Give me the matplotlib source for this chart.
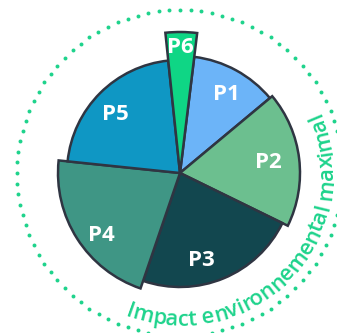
import numpy as np
import matplotlib.pyplot as plt
from matplotlib import font_manager
from matplotlib.font_manager import FontProperties
from matplotlib.ft2font import FT2Font

# share of each part (angular width, %) and its impact score (radius)
labels = ['P1', 'P2', 'P3', 'P4', 'P5', 'P6']
shares = [12.0, 18.3, 23.0, 21.4, 21.7, 3.6]
impact = [117, 120, 114, 122, 113, 141]
colors = ['#6cb4f8', '#6cbf8f', '#12474f', '#3f9685', '#0f97c4', '#0fd685']
max_impact = 163
arc_title = 'Impact environnemental maximal'

green = '#1ed38c'
edge = '#2f3542'

W, H = 337, 333
cx, cy = 180, 173          # pie centre in pixels (from top-left)
R = 170                    # axes radius in pixels

fig = plt.figure(figsize=(W / 100, H / 100), dpi=100)
fig.patch.set_facecolor('white')
ax = fig.add_axes([(cx - R) / W, (H - cy - R) / H, 2 * R / W, 2 * R / H],
                  projection='polar')
ax.set_theta_zero_location('N')
ax.set_theta_direction(-1)
ax.set_ylim(0, R)
ax.axis('off')

start = np.deg2rad(7)
widths = np.deg2rad(np.array(shares) * 3.6)
lefts = start + np.concatenate([[0], np.cumsum(widths)[:-1]])
ax.bar(lefts, impact, width=widths, bottom=0, align='edge', color=colors,
       edgecolor=edge, linewidth=1.8, clip_on=False)

# label placement: angle nudge from slice middle (deg) and radius
lab_nudge = [2, 0, 8.5, -6, -3, -0.5]
lab_r = [91, 89, 90, 100, 87, 126]
lab_font = FontProperties(family='Open Sans', weight='bold', size=16)
for lab, l, w, dn, rl in zip(labels, lefts, widths, lab_nudge, lab_r):
    ax.text(l + w / 2 + np.deg2rad(dn), rl, lab, color='white',
            fontproperties=lab_font, ha='center', va='center', clip_on=False)

# dotted circle of maximal impact
n_dots = 96
th = np.linspace(0, 2 * np.pi, n_dots, endpoint=False)
ax.scatter(th, np.full(n_dots, max_impact), s=8, color=green, marker='o',
           linewidths=0, clip_on=False)

# curved title along the inside of the dotted circle
t_size = 15.8
t_font = FontProperties(family='Open Sans', weight='semibold', size=t_size)
ft = FT2Font(font_manager.findfont(t_font))
ft.set_size(t_size, 100)
adv = [ft.load_char(ord(c)).linearHoriAdvance / 65536 for c in arc_title]
r_base = 153
theta0 = np.deg2rad(-111)  # math angle where the text begins
pos = 0
for c, a in zip(arc_title, adv):
    ang = theta0 + (pos + a / 2) / r_base
    pos += a
    if c == ' ':
        continue
    ax.text(np.pi / 2 - ang, r_base, c, fontproperties=t_font, color=green,
            rotation=np.rad2deg(ang) + 90, rotation_mode='anchor',
            ha='center', va='baseline', clip_on=False)

fig.savefig('out.png', dpi=100, facecolor='white')
